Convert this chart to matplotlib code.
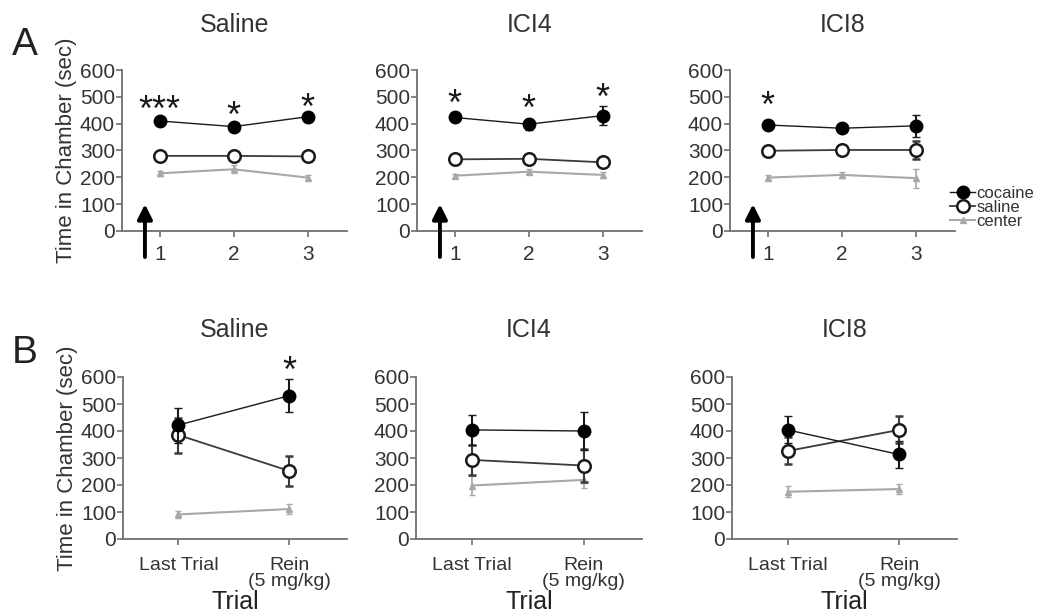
import matplotlib
matplotlib.use("Agg")
import matplotlib.pyplot as plt
from matplotlib.lines import Line2D
import numpy as np

plt.rcParams['font.family'] = ['Liberation Sans', 'DejaVu Sans']

# ---------------- data ----------------
groups = ["Saline", "ICI4", "ICI8"]
trials_a = [1, 2, 3]
trials_b_labels = ["Last Trial", "Rein\n(5 mg/kg)"]
legend_labels = ["cocaine", "saline", "center"]

# Panel A (acquisition trials)
cocaine_a = {"Saline": [410, 389, 426], "ICI4": [423, 398, 430], "ICI8": [395, 383, 392]}
cocaine_a_err = {"Saline": [10, 12, 10], "ICI4": [12, 20, 35], "ICI8": [15, 15, 40]}
saline_a = {"Saline": [280, 280, 278], "ICI4": [267, 269, 256], "ICI8": [299, 302, 302]}
saline_a_err = {"Saline": [10, 10, 10], "ICI4": [12, 15, 12], "ICI8": [10, 12, 35]}
center_a = {"Saline": [215, 230, 199], "ICI4": [206, 221, 209], "ICI8": [199, 209, 197]}
center_a_err = {"Saline": [10, 15, 10], "ICI4": [8, 10, 10], "ICI8": [8, 12, 35]}
stars_a = {"Saline": [(1, 489, "***"), (2, 464, "*"), (3, 497, "*")],
           "ICI4": [(1, 510, "*"), (2, 492, "*"), (3, 532, "*")],
           "ICI8": [(1, 503, "*")]}

# Panel B (last trial vs reinstatement)
cocaine_b = {"Saline": [422, 531], "ICI4": [404, 400], "ICI8": [404, 313]}
cocaine_b_err = {"Saline": [65, 60], "ICI4": [55, 70], "ICI8": [50, 50]}
saline_b = {"Saline": [385, 252], "ICI4": [293, 272], "ICI8": [326, 404]}
saline_b_err = {"Saline": [65, 55], "ICI4": [55, 60], "ICI8": [50, 50]}
center_b = {"Saline": [91, 111], "ICI4": [198, 219], "ICI8": [175, 185]}
center_b_err = {"Saline": [12, 18], "ICI4": [35, 30], "ICI8": [20, 20]}
stars_b = {"Saline": [(1, 659, "*")], "ICI4": [], "ICI8": []}

yticks = [0, 100, 200, 300, 400, 500, 600]

# ---------------- style ----------------
TXT = '#333333'
SPINE = '#707070'
W, H = 1060, 614
fig = plt.figure(figsize=(W / 100, H / 100), dpi=100)

def px_axes(x0, x1, ytop, ybot):
    return fig.add_axes([x0 / W, 1 - ybot / H, (x1 - x0) / W, (ybot - ytop) / H])

top_boxes = [(122, 347), (417, 642), (730, 955)]
bot_boxes = [(123, 347), (416, 642), (732, 957)]

COC = dict(color='#1a1a1a', lw=1.0, marker='o', ms=9, mfc='black', mec='black')
SAL = dict(color='#3a3a3a', lw=1.3, marker='o', ms=9, mfc='white', mec='#1a1a1a', mew=1.8)
CEN = dict(color='#a8a8a8', lw=1.5, marker='^', ms=4)

def style_axis(ax):
    for s in ['top', 'right']:
        ax.spines[s].set_visible(False)
    for s in ['left', 'bottom']:
        ax.spines[s].set_color(SPINE)
        ax.spines[s].set_linewidth(1.3)
    ax.set_ylim(0, 600)
    ax.set_yticks(yticks)
    ax.tick_params(axis='y', direction='out', length=4, width=1.2, color=SPINE,
                   labelsize=15, labelcolor=TXT, pad=1)
    ax.tick_params(axis='x', direction='out', length=4, width=1.2, color=SPINE,
                   labelsize=15, labelcolor=TXT, pad=6)

def plot_series(ax, x, coc, coc_e, sal, sal_e, cen, cen_e):
    ax.errorbar(x, cen, yerr=cen_e, capsize=2.5, elinewidth=1.2, clip_on=False, zorder=2, **CEN)
    ax.errorbar(x, sal, yerr=sal_e, capsize=3, elinewidth=1.5, clip_on=False, zorder=3, **SAL)
    ax.errorbar(x, coc, yerr=coc_e, capsize=3, elinewidth=1.5, clip_on=False, zorder=4, **COC)

def add_stars(ax, stars):
    for xs, ys, s in stars:
        ax.annotate(s, (xs, ys), xytext=(0, -15), textcoords='offset points',
                    ha='center', va='baseline', fontsize=26, color='#1a1a1a',
                    annotation_clip=False)

# ---------------- top row (A) ----------------
for i, g in enumerate(groups):
    ax = px_axes(top_boxes[i][0], top_boxes[i][1], 70, 231)
    style_axis(ax)
    plot_series(ax, trials_a, cocaine_a[g], cocaine_a_err[g], saline_a[g], saline_a_err[g],
                center_a[g], center_a_err[g])
    ax.set_xlim(0.49, 3.53)
    ax.set_xticks(trials_a)
    ax.set_title(g, fontsize=18, color=TXT, pad=27)
    add_stars(ax, stars_a[g])
    ax.annotate('', xy=(0.8, 100), xytext=(0.8, -97),
                arrowprops=dict(arrowstyle='-|>', lw=2.8, color='black', mutation_scale=22,
                                shrinkA=0, shrinkB=0),
                annotation_clip=False)
    if i == 0:
        ax.set_ylabel('Time in Chamber (sec)', fontsize=16, color=TXT, labelpad=2)
    if i == 2:
        handles = [Line2D([], [], **COC), Line2D([], [], **SAL), Line2D([], [], **CEN)]
        ax.legend(handles, legend_labels, loc='upper left',
                  bbox_to_anchor=(950 / W, 1 - 186 / H), bbox_transform=fig.transFigure,
                  frameon=False, fontsize=12, handlelength=1.5, handletextpad=0.1,
                  labelspacing=-0.05, borderpad=0, borderaxespad=0, labelcolor=TXT)

# ---------------- bottom row (B) ----------------
xb = [0, 1]
for i, g in enumerate(groups):
    ax = px_axes(bot_boxes[i][0], bot_boxes[i][1], 377, 539)
    style_axis(ax)
    plot_series(ax, xb, cocaine_b[g], cocaine_b_err[g], saline_b[g], saline_b_err[g],
                center_b[g], center_b_err[g])
    ax.set_xlim(-0.5, 1.52)
    ax.set_xticks(xb)
    ax.set_xticklabels(trials_b_labels, fontsize=14, linespacing=0.95)
    ax.tick_params(axis='x', pad=9)
    ax.set_title(g, fontsize=18, color=TXT, pad=29)
    ax.set_xlabel('Trial', fontsize=18, color='#222222', labelpad=0)
    add_stars(ax, stars_b[g])
    if i == 0:
        ax.set_ylabel('Time in Chamber (sec)', fontsize=16, color=TXT, labelpad=2)

fig.text(25 / W, 1 - 45 / H, 'A', fontsize=28, color='#222222', ha='center', va='center')
fig.text(25 / W, 1 - 353 / H, 'B', fontsize=28, color='#222222', ha='center', va='center')

fig.savefig('out.png', dpi=100, facecolor='white')
